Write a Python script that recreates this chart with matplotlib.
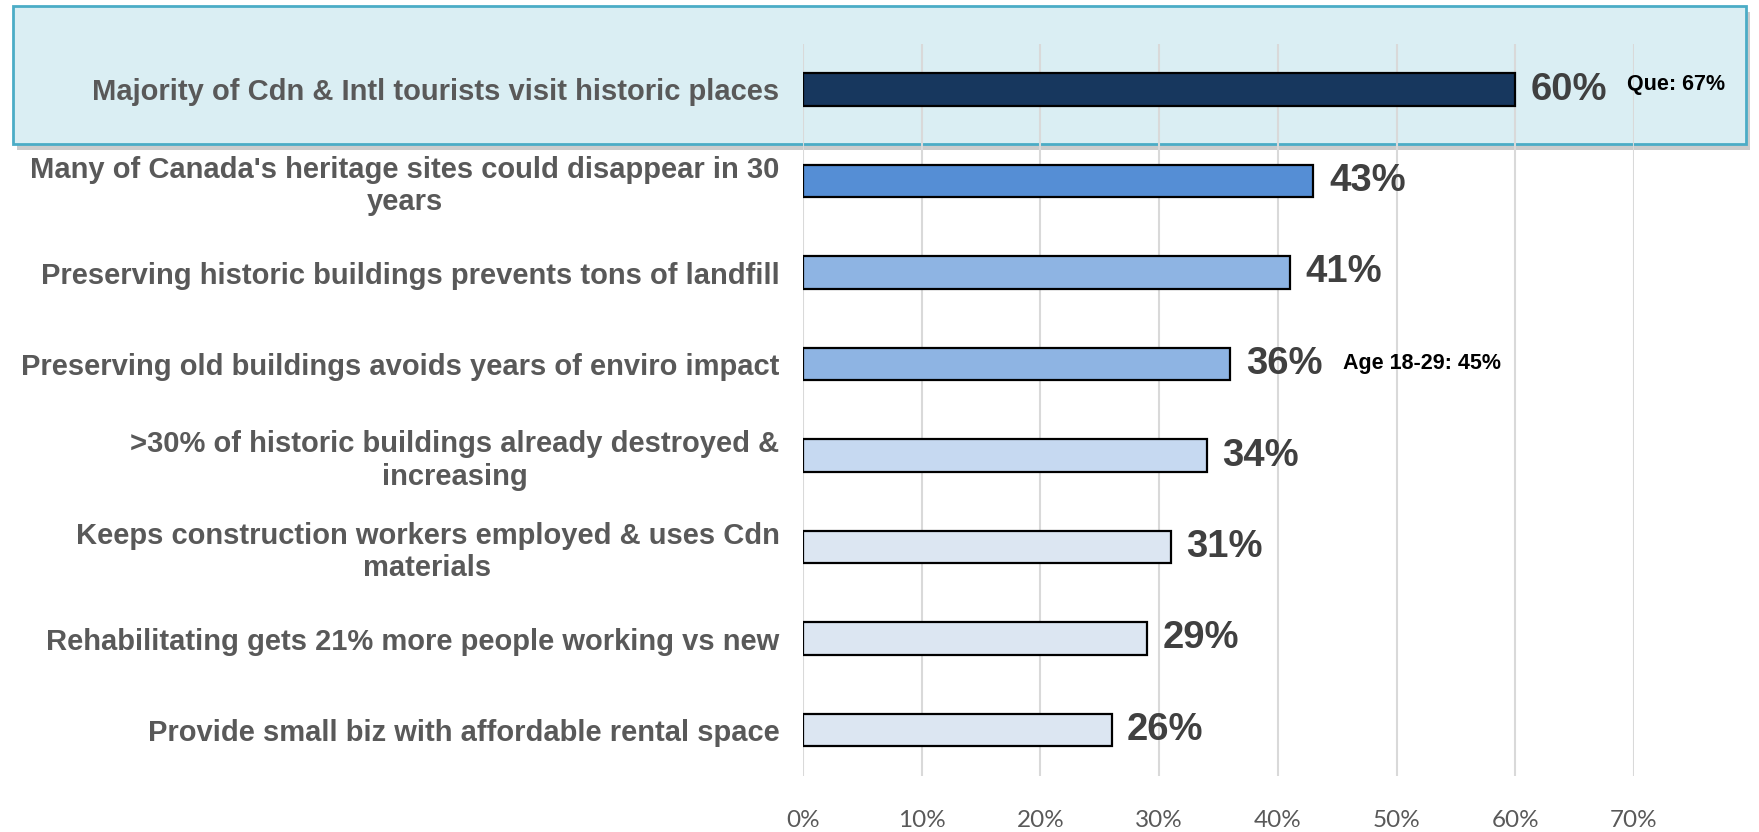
import matplotlib
matplotlib.use("Agg")
import matplotlib.pyplot as plt
from matplotlib.patches import FancyBboxPatch
from matplotlib.ticker import FuncFormatter
import matplotlib.patheffects as pe

categories = [
    "Majority of Cdn & Intl tourists visit historic places",
    "Many of Canada's heritage sites could disappear in 30\nyears",
    "Preserving historic buildings prevents tons of landfill",
    "Preserving old buildings avoids years of enviro impact",
    ">30% of historic buildings already destroyed &\nincreasing",
    "Keeps construction workers employed & uses Cdn\nmaterials",
    "Rehabilitating gets 21% more people working vs new",
    "Provide small biz with affordable rental space",
]
values = [60, 43, 41, 36, 34, 31, 29, 26]
bar_colors = ["#17375E", "#558ED5", "#8EB4E3", "#8EB4E3",
              "#C6D9F1", "#DCE6F2", "#DCE6F2", "#DCE6F2"]
# side notes: (bar index, text, x position in %, vertical nudge)
notes = [(0, "Que: 67%", 69.4, -0.06), (3, "Age 18-29: 45%", 45.5, 0.0)]
xticks = [0, 10, 20, 30, 40, 50, 60, 70]

W, H = 1759, 832
fig = plt.figure(figsize=(W / 100, H / 100), dpi=100)

# highlighted band behind the first item
band = FancyBboxPatch((13 / W, 1 - 144 / H), (1746 - 13) / W, (144 - 6) / H,
                      boxstyle="square,pad=0", transform=fig.transFigure,
                      facecolor="#DAEEF3", edgecolor="#4BACC6", linewidth=2,
                      zorder=0)
band.set_path_effects([pe.SimplePatchShadow(offset=(3, -4), shadow_rgbFace="#9a9a9a",
                                            alpha=0.5), pe.Normal()])
fig.patches.append(band)

ax = fig.add_axes([803 / W, 1 - 775.75 / H, (1634 - 803) / W, (775.75 - 43.75) / H])
ax.set_facecolor("none")
ax.set_zorder(2)

y = list(range(len(values)))
ax.barh(y, values, height=0.36, color=bar_colors, edgecolor="black",
        linewidth=1.6, zorder=3)

for yi, v in zip(y, values):
    ax.text(v + 1.3, yi, f"{v}%", va="center", ha="left", fontsize=27.5,
            fontweight="bold", color="#404040", family="Liberation Sans",
            clip_on=False, zorder=4)

for i, txt, xv, dy in notes:
    ax.text(xv, i + dy, txt, va="center", ha="left", fontsize=15.5,
            fontweight="bold", color="black", family="Liberation Sans",
            clip_on=False, zorder=4)

ax.set_xlim(0, 70)
ax.set_ylim(len(values) - 0.5, -0.5)
ax.set_xticks(xticks)
ax.xaxis.set_major_formatter(FuncFormatter(lambda v, p: f"{v:.0f}%"))
ax.set_yticks(y)
ax.set_yticklabels(categories, multialignment="center")
for lab in ax.get_yticklabels():
    lab.set_fontsize(21)
    lab.set_fontweight("bold")
    lab.set_color("#595959")
    lab.set_family("Liberation Sans")
for lab in ax.get_xticklabels():
    lab.set_fontsize(17.5)
    lab.set_color("#595959")
    lab.set_family("Lato")

ax.tick_params(axis="y", length=0, pad=17)
ax.tick_params(axis="x", length=0, pad=25)
ax.grid(axis="x", color="#D9D9D9", linewidth=1.5, zorder=0)
ax.set_axisbelow(True)
for s in ax.spines.values():
    s.set_visible(False)

fig.savefig("out.png", dpi=100)
